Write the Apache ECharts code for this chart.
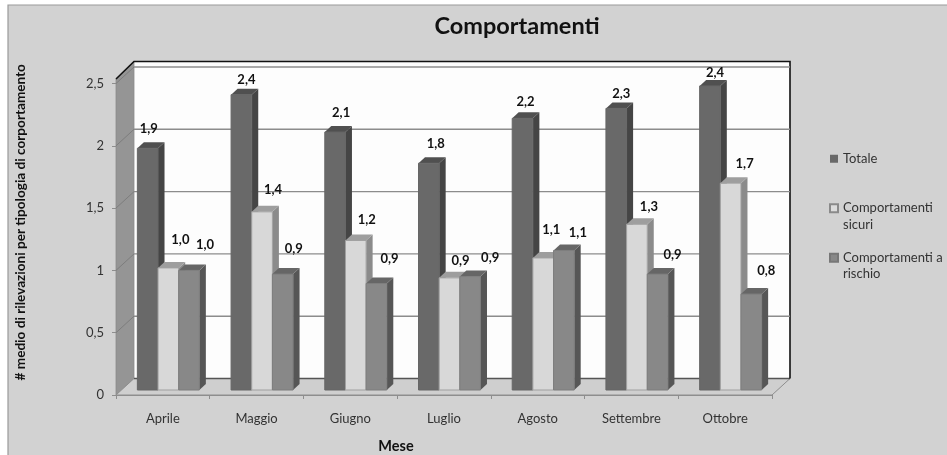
<!DOCTYPE html>
<html>
<head>
<meta charset="utf-8">
<script src="https://cdn.jsdelivr.net/npm/echarts@6/dist/echarts.min.js"></script>
<style>
html,body{margin:0;padding:0;background:#fff;}
#c{width:947px;height:455px;filter:blur(0.45px);}
</style>
</head>
<body>
<div id="c"></div>
<script>
const categories = ['Aprile','Maggio','Giugno','Luglio','Agosto','Settembre','Ottobre'];
const totale = [1.94,2.37,2.07,1.82,2.18,2.26,2.44];
const sicuri = [0.98,1.43,1.20,0.90,1.06,1.33,1.66];
const rischio = [0.96,0.93,0.855,0.91,1.12,0.93,0.77];
const yTicks = [0,0.5,1,1.5,2,2.5];

// Hand-placed label shifts (px from the top centre of each bar), as in the source chart
const labelShiftTotale = [[1,-19],[5,-15],[6,-19],[7,-19],[3,-17],[5,-15],[5,-13]];
const labelShiftSicuri = [[12,-28],[11,-22],[11,-21],[11,-17],[8,-28],[12,-17],[14,-19]];
const labelShiftRischio = [[16,-26],[11,-25],[13,-25],[20,-19],[14,-18],[15,-19],[15,-23]];

const FONT = 'Lato';
const WALL = {dx:18, dy:-16.5, top:-5.5};   // depth of the 3D box and extra height of the back wall
const BAR = {dx:5.5, dy:-5, depthX:6.5, depthY:-6, widthShare:0.2205};

function comma(v, digits){
  return (digits === undefined ? String(v) : v.toFixed(digits)).replace('.', ',');
}

function renderWalls(params, api){
  const v = api.value(0);
  const left = api.coord([0, v]);
  const band = api.size([1, 0])[0];
  const x0 = left[0] - band / 2;
  const x1 = x0 + band * categories.length;
  const y = left[1];
  const children = [];
  if (params.dataIndex === 0) {
    const top = api.coord([0, yTicks[yTicks.length - 1]])[1];
    children.push(
      {type:'polygon', shape:{points:[[x0+WALL.dx,top+WALL.dy+WALL.top],[x1+WALL.dx,top+WALL.dy+WALL.top],[x1+WALL.dx,y+WALL.dy],[x0+WALL.dx,y+WALL.dy]]}, style:{fill:'#fdfdfd'}},
      {type:'polygon', shape:{points:[[x0,top+WALL.top+1],[x0+WALL.dx,top+WALL.dy+WALL.top],[x0+WALL.dx,y+WALL.dy],[x0,y]]}, style:{fill:'#959595', stroke:'#8a8a8a', lineWidth:0.8}},
      {type:'polygon', shape:{points:[[x0,y],[x1,y],[x1+WALL.dx,y+WALL.dy],[x0+WALL.dx,y+WALL.dy]]}, style:{fill:'#cfcfcf', stroke:'#8e8e8e', lineWidth:1}},
      {type:'line', shape:{x1:x0+WALL.dx,y1:y+WALL.dy,x2:x1+WALL.dx,y2:y+WALL.dy}, style:{stroke:'#555', lineWidth:1.4}},
      {type:'polyline', shape:{points:[[x0,top+WALL.top+1],[x0+WALL.dx,top+WALL.dy+WALL.top],[x1+WALL.dx,top+WALL.dy+WALL.top],[x1+WALL.dx,y+WALL.dy]]}, style:{fill:null, stroke:'#111', lineWidth:1.6}}
    );
  } else {
    children.push(
      {type:'line', shape:{x1:x0+WALL.dx,y1:y+WALL.dy,x2:x1+WALL.dx,y2:y+WALL.dy}, style:{stroke:'#8c8c8c', lineWidth:1.4}},
      {type:'line', shape:{x1:x0,y1:y,x2:x0+WALL.dx,y2:y+WALL.dy}, style:{stroke:'#7d7d7d', lineWidth:1}}
    );
  }
  return {type:'group', children};
}

function barRenderer(slot, look, shifts){
  return function(params, api){
    const i = api.value(0);
    const v = api.value(1);
    const top = api.coord([i, v]);
    const base = api.coord([i, 0]);
    const w = api.size([1, 0])[0] * BAR.widthShare;
    const x = top[0] + BAR.dx + (slot - 1.5) * w;
    const yT = top[1] + BAR.dy;
    const yB = base[1] + BAR.dy;
    const shift = shifts[i];
    return {type:'group', children:[
      {type:'polygon', shape:{points:[[x+w,yT],[x+w+BAR.depthX,yT+BAR.depthY],[x+w+BAR.depthX,yB+BAR.depthY],[x+w,yB]]}, style:{fill:look.side}},
      {type:'polygon', shape:{points:[[x,yT],[x+BAR.depthX,yT+BAR.depthY],[x+w+BAR.depthX,yT+BAR.depthY],[x+w,yT]]}, style:{fill:look.top}},
      {type:'rect', shape:{x:x,y:yT,width:w,height:yB-yT}, style:{fill:look.front, stroke:look.edge, lineWidth:1}},
      {type:'text', z2:100, x:x+w/2+shift[0], y:yT+shift[1], style:{text:comma(v,1), fill:'#111', font:'bold 13px '+FONT, align:'center', verticalAlign:'middle'}}
    ]};
  };
}

function toPairs(values){ return values.map((v,i)=>[i,v]); }

function legendText(name){
  const cut = name.lastIndexOf(' ');
  return cut < 0 ? '\n' + name + '\n' : '\n' + name.slice(0, cut) + '\n' + name.slice(cut + 1);
}

const chart = echarts.init(document.getElementById('c'), null, {renderer:'canvas'});
chart.setOption({
  animation:false,
  backgroundColor:'#ffffff',
  textStyle:{fontFamily:FONT},
  graphic:[{type:'rect', z:-10, silent:true, shape:{x:8,y:5,width:960,height:470}, style:{fill:'#d2d2d2', stroke:'#9a9a9a', lineWidth:1.2}}],
  title:{text:'Comportamenti', left:512, top:9, textAlign:'center', textStyle:{fontFamily:FONT, fontSize:23.5, fontWeight:'bold', color:'#111'}},
  legend:{
    orient:'vertical', left:829, top:134, padding:0, itemWidth:8, itemHeight:8, itemGap:0, selectedMode:false,
    icon:'rect',
    formatter:legendText,
    textStyle:{fontFamily:FONT, fontSize:13, color:'#333', lineHeight:16.5},
    data:['Totale','Comportamenti sicuri','Comportamenti a rischio']
  },
  grid:{left:116, right:175, top:83.5, bottom:60, containLabel:false, outerBoundsMode:'none'},
  xAxis:{
    type:'category', data:categories, name:'Mese', nameLocation:'middle', nameGap:44,
    nameTextStyle:{fontFamily:FONT, fontWeight:'bold', fontSize:14.5, color:'#111', padding:[0,96,0,0]},
    axisLine:{lineStyle:{color:'#8e8e8e', width:1}},
    axisTick:{show:true, length:4, alignWithLabel:false, lineStyle:{color:'#8e8e8e'}},
    axisLabel:{fontFamily:FONT, fontSize:13, color:'#333', margin:17},
    splitLine:{show:false}
  },
  yAxis:{
    type:'value', min:0, max:2.5, interval:0.5,
    name:'# medio di rilevazioni per tipologia di corportamento', nameLocation:'middle', nameGap:88, nameRotate:90,
    nameTextStyle:{fontFamily:FONT, fontWeight:'bold', fontSize:13.6, color:'#111', padding:[0,0,0,34]},
    axisLine:{show:true, lineStyle:{color:'#8e8e8e'}},
    axisTick:{show:true, length:4, lineStyle:{color:'#8e8e8e'}},
    axisLabel:{fontFamily:FONT, fontSize:13, color:'#333', margin:12, formatter:v=>comma(v)},
    splitLine:{show:false}
  },
  series:[
    {type:'custom', name:'Pareti', silent:true, z:1, coordinateSystem:'cartesian2d', data:yTicks.map(v=>[v]), encode:{y:0}, renderItem:renderWalls, clip:false},
    {type:'custom', name:'Totale', silent:true, z:2, coordinateSystem:'cartesian2d', data:toPairs(totale), encode:{x:0,y:1}, itemStyle:{color:'#696969'}, renderItem:barRenderer(0,{front:'#696969',side:'#454545',top:'#505050',edge:'#666666'},labelShiftTotale), clip:false},
    {type:'custom', name:'Comportamenti sicuri', silent:true, z:2, coordinateSystem:'cartesian2d', data:toPairs(sicuri), encode:{x:0,y:1}, itemStyle:{color:'#dcdcdc', borderColor:'#8a8a8a', borderWidth:1}, renderItem:barRenderer(1,{front:'#d8d8d8',side:'#8b8b8b',top:'#9e9e9e',edge:'#a0a0a0'},labelShiftSicuri), clip:false},
    {type:'custom', name:'Comportamenti a rischio', silent:true, z:2, coordinateSystem:'cartesian2d', data:toPairs(rischio), encode:{x:0,y:1}, itemStyle:{color:'#888888', borderColor:'#777777', borderWidth:1}, renderItem:barRenderer(2,{front:'#888888',side:'#565656',top:'#666666',edge:'#7d7d7d'},labelShiftRischio), clip:false}
  ]
});
</script>
</body>
</html>
